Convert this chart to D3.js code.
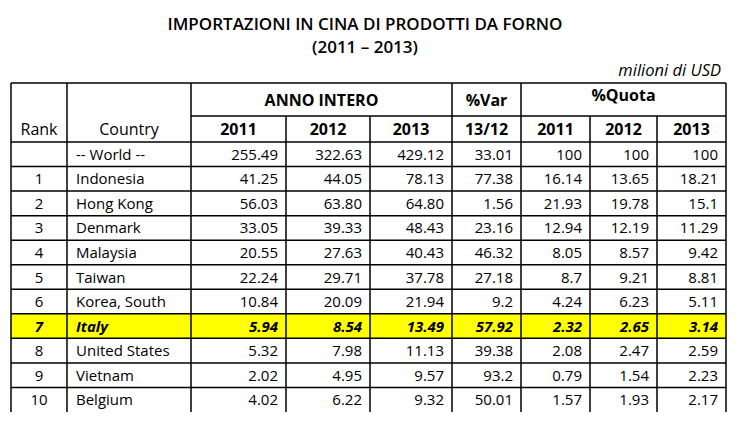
<!DOCTYPE html>
<html><head><meta charset="utf-8">
<script src="https://cdn.jsdelivr.net/npm/d3@7"></script>
<style>
html,body{margin:0;padding:0;background:#fff;}
svg text{font-family:"Open Sans",sans-serif;fill:#000;}
</style></head>
<body><svg id="c" width="742" height="421"></svg>
<script>
const title = "IMPORTAZIONI IN CINA DI PRODOTTI DA FORNO";
const subtitle = "(2011 – 2013)";
const unit = "milioni di USD";
const ranks = ["", "1","2","3","4","5","6","7","8","9","10"];
const countries = ["-- World --","Indonesia","Hong Kong","Denmark","Malaysia","Taiwan","Korea, South","Italy","United States","Vietnam","Belgium"];
const v2011 = ["255.49","41.25","56.03","33.05","20.55","22.24","10.84","5.94","5.32","2.02","4.02"];
const v2012 = ["322.63","44.05","63.80","39.33","27.63","29.71","20.09","8.54","7.98","4.95","6.22"];
const v2013 = ["429.12","78.13","64.80","48.43","40.43","37.78","21.94","13.49","11.13","9.57","9.32"];
const var1312 = ["33.01","77.38","1.56","23.16","46.32","27.18","9.2","57.92","39.38","93.2","50.01"];
const q2011 = ["100","16.14","21.93","12.94","8.05","8.7","4.24","2.32","2.08","0.79","1.57"];
const q2012 = ["100","13.65","19.78","12.19","8.57","9.21","6.23","2.65","2.47","1.54","1.93"];
const q2013 = ["100","18.21","15.1","11.29","9.42","8.81","5.11","3.14","2.59","2.23","2.17"];
const colKeys = ["rank","country","a2011","a2012","a2013","var","q2011","q2012","q2013"];
const yearLabels = ["2011","2012","2013","13/12","2011","2012","2013"];
const highlight = "Italy";

const rows = countries.map((c,i)=>({rank:ranks[i],country:c,a2011:v2011[i],a2012:v2012[i],a2013:v2013[i],var:var1312[i],q2011:q2011[i],q2012:q2012[i],q2013:q2013[i]}));

const svg = d3.select("#c");
const edges = [11,67,191,286,370,452,521,590,657,726];
const colL = {}, colR = {};
colKeys.forEach((k,i)=>{colL[k]=edges[i];colR[k]=edges[i+1];});
const tTop = 83, tMid = 116, hdrBottom = 142, tBottom = 412;
const y = d3.scaleBand().domain(d3.range(rows.length)).range([hdrBottom,tBottom]);

svg.append("text").attr("x",365).attr("y",30).attr("text-anchor","middle")
  .style("font-size","17px").style("font-weight",600).text(title);
svg.append("text").attr("x",365).attr("y",53).attr("text-anchor","middle")
  .style("font-size","17px").style("font-weight",600).text(subtitle);
svg.append("text").attr("x",721).attr("y",76).attr("text-anchor","end")
  .style("font-size","16.5px").style("font-style","italic").text(unit);

const hi = countries.indexOf(highlight);
svg.append("rect").attr("x",edges[0]).attr("y",y(hi)).attr("width",edges[9]-edges[0]).attr("height",y.bandwidth()).attr("fill","#ffff00");

const g = svg.append("g").attr("stroke","#000").attr("stroke-width",1.5).attr("fill","none");
g.append("line").attr("x1",edges[0]).attr("x2",edges[9]).attr("y1",tTop).attr("y2",tTop);
g.append("line").attr("x1",edges[2]).attr("x2",edges[9]).attr("y1",tMid).attr("y2",tMid);
d3.range(rows.length).forEach(i=>{
  g.append("line").attr("x1",edges[0]).attr("x2",edges[9]).attr("y1",y(i)).attr("y2",y(i));
});
edges.forEach((x,i)=>{
  let y1 = tTop;
  if (i===3||i===4||i===7||i===8) y1 = tMid;
  g.append("line").attr("x1",x).attr("x2",x).attr("y1",y1).attr("y2",tBottom);
});

const hs = "16px";
function htext(x,yy,t,bold){svg.append("text").attr("x",x).attr("y",yy).attr("text-anchor","middle").style("font-size",hs).style("font-weight",bold?700:400).text(t);}
htext((edges[0]+edges[1])/2,135,"Rank",false);
htext((edges[1]+edges[2])/2,135,"Country",false);
htext((edges[2]+edges[5])/2,106,"ANNO INTERO",true);
htext((edges[5]+edges[6])/2,106,"%Var",true);
htext((edges[6]+edges[9])/2,101,"%Quota",true);
yearLabels.forEach((t,i)=>htext((edges[i+2]+edges[i+3])/2,135,t,true));

const body = svg.append("g");
rows.forEach((r,i)=>{
  const isHi = r.country===highlight;
  const by = y(i)+y.bandwidth()/2+5.5;
  colKeys.forEach(k=>{
    let x, anchor;
    if(k==="rank"){x=(colL[k]+colR[k])/2;anchor="middle";}
    else if(k==="country"){x=colL[k]+9;anchor="start";}
    else {x=colR[k]-8;anchor="end";}
    body.append("text").attr("x",x).attr("y",by).attr("text-anchor",anchor)
      .style("font-size","15px")
      .style("font-weight",isHi?700:400).style("font-style",isHi?"italic":"normal")
      .text(r[k]);
  });
});
</script></body></html>
